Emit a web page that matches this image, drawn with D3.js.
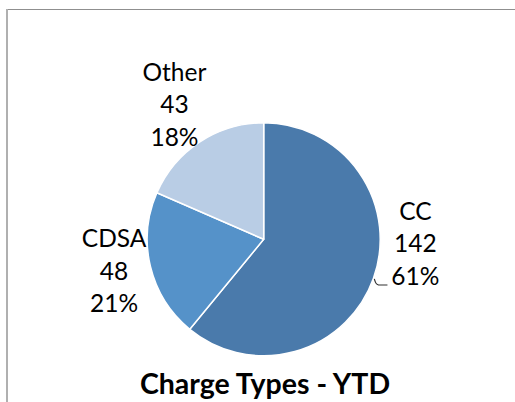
<!DOCTYPE html>
<html>
<head>
<meta charset="utf-8">
<script src="https://cdn.jsdelivr.net/npm/d3@7"></script>
<style>
  html, body { margin: 0; padding: 0; background: #fff; }
  svg { display: block; }
</style>
</head>
<body>
<svg id="chart" width="515" height="402"></svg>
<script>
// ---- data ----
const categories = ["CC", "CDSA", "Other"];
const values = [142, 48, 43];
const percentLabels = ["61%", "21%", "18%"];
const chartTitle = "Charge Types - YTD";

// ---- layout / style ----
const W = 515, H = 402;
const cx = 263.7, cy = 239.3, R = 116.5;
const colors = { "CC": "#4a7aab", "CDSA": "#5592c9", "Other": "#b9cde5" };
const labelRadius = R + 40;
const labelNudge = { "CC": [4.3, -48.4], "CDSA": [2.5, -4.5], "Other": [-3.5, -3.6] };
const lineGap = 32.5;
const fontFam = "Lato, 'Liberation Sans', sans-serif";

const svg = d3.select("#chart");

// frame
svg.append("line").attr("x1", 6).attr("x2", W).attr("y1", 9.5).attr("y2", 9.5)
  .attr("stroke", "#8f8f8f").attr("stroke-width", 1.2);
svg.append("line").attr("x1", 7).attr("x2", 7).attr("y1", 9).attr("y2", H)
  .attr("stroke", "#b0b0b0").attr("stroke-width", 2);

const data = categories.map((c, i) => ({ cat: c, value: values[i], pct: percentLabels[i] }));

const pie = d3.pie().value(d => d.value).sort(null);
const arcs = pie(data);
const arc = d3.arc().innerRadius(0).outerRadius(R);
const labelArc = d3.arc().innerRadius(labelRadius).outerRadius(labelRadius);

const g = svg.append("g").attr("transform", `translate(${cx},${cy})`);

g.selectAll("path.slice").data(arcs).enter().append("path")
  .attr("class", "slice")
  .attr("d", arc)
  .attr("fill", d => colors[d.data.cat])
  .attr("stroke", "#ffffff")
  .attr("stroke-width", 1.5)
  .attr("stroke-linejoin", "round");

// labels
arcs.forEach(d => {
  const [bx, by] = labelArc.centroid(d);
  const [nx, ny] = labelNudge[d.data.cat];
  const lx = bx + nx, ly = by + ny;
  const lines = [d.data.cat, String(d.data.value), d.data.pct];
  const t = g.append("text")
    .attr("text-anchor", "middle")
    .attr("font-family", fontFam)
    .attr("font-size", 24.5)
    .attr("fill", "#000");
  lines.forEach((s, i) => {
    t.append("tspan").attr("x", lx).attr("y", ly + 8.5 + (i - 1) * lineGap).text(s);
  });
});

// leader line for CC (label moved away from slice)
const ccArc = arcs[0];
const mid = (ccArc.startAngle + ccArc.endAngle) / 2;
const p0 = [Math.sin(mid) * (R + 1), -Math.cos(mid) * (R + 1)];
const p1 = [Math.sin(mid + 0.035) * (R + 7), -Math.cos(mid + 0.035) * (R + 7)];
const p2 = [p1[0] + 9, p1[1]];
g.append("path")
  .attr("d", d3.line().curve(d3.curveBasis)([p0, [p0[0] + 1.5, p1[1] - 1], p1]) + "L" + p2[0] + "," + p2[1])
  .attr("fill", "none")
  .attr("stroke", "#303030")
  .attr("stroke-width", 1.1);

// title
svg.append("text")
  .attr("x", 265).attr("y", 394)
  .attr("text-anchor", "middle")
  .attr("font-family", fontFam)
  .attr("font-weight", "bold")
  .attr("font-size", 28.5)
  .attr("fill", "#000")
  .text(chartTitle);
</script>
</body>
</html>
